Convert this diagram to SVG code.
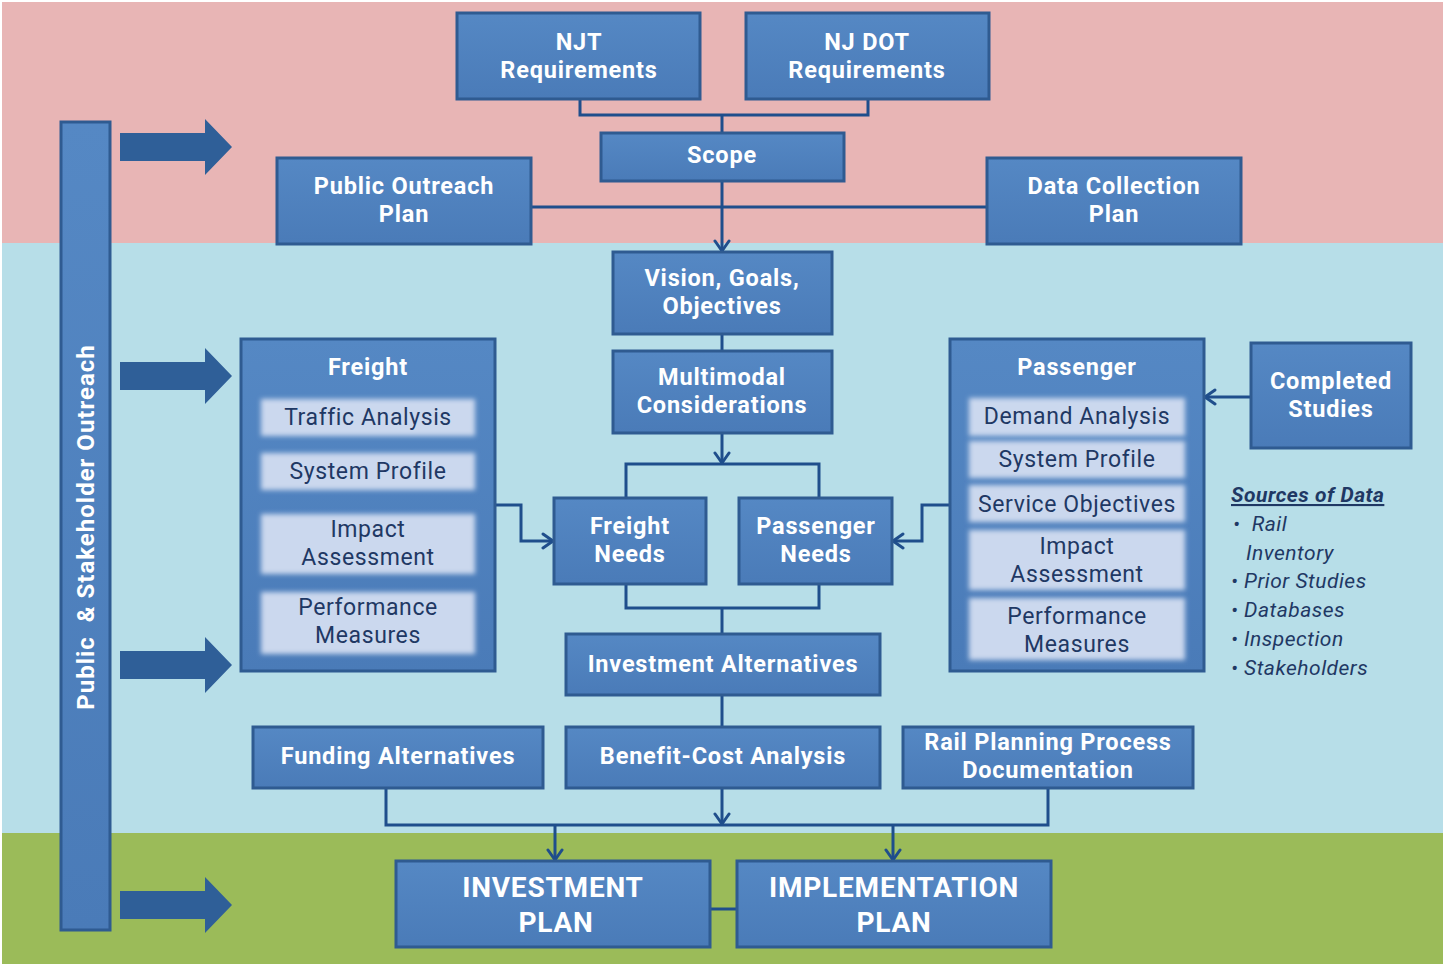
<svg xmlns="http://www.w3.org/2000/svg" width="1445" height="968" viewBox="0 0 1445 968">
<defs>
<linearGradient id="bx" x1="0" y1="0" x2="0" y2="1">
<stop offset="0" stop-color="#5588C4"/>
<stop offset="1" stop-color="#4A7BB8"/>
</linearGradient>
<filter id="soft" x="-10%" y="-20%" width="120%" height="140%">
<feGaussianBlur stdDeviation="2.5"/>
</filter>
<marker id="ah" viewBox="0 0 14 18" refX="12" refY="9" markerWidth="14" markerHeight="18" orient="auto" markerUnits="userSpaceOnUse">
<path d="M2,2 L12,9 L2,16" fill="none" stroke="#1F4E8C" stroke-width="3" stroke-linecap="round" stroke-linejoin="round"/>
</marker>
</defs>
<style>
.box{fill:url(#bx);stroke:#2F5B91;stroke-width:3}
.sub{fill:#CBD8EE;filter:url(#soft)}
.t{font-family:Roboto,"Liberation Sans",sans-serif;font-weight:bold;fill:#FFFFFF;text-anchor:middle;font-size:23.5px;letter-spacing:0.8px}
.big{font-size:28px}
.s{font-family:Roboto,"Liberation Sans",sans-serif;fill:#1F3864;text-anchor:middle;font-size:23px;letter-spacing:0.6px}
.src{font-family:Roboto,"Liberation Sans",sans-serif;fill:#1F3864;font-style:italic;font-size:21px;letter-spacing:0.5px}
.ln{fill:none;stroke:#1F4E8C;stroke-width:3}
.arr{fill:#2F5F98}
</style>
<rect x="0" y="0" width="1445" height="968" fill="#FFFFFF"/>
<rect x="2" y="2" width="1441" height="242" fill="#E8B5B5"/>
<rect x="2" y="243" width="1441" height="590" fill="#B7DEE8"/>
<rect x="2" y="833" width="1441" height="131" fill="#9BBB59"/>

<g id="outreach-bar">
<rect x="61" y="122" width="49" height="808" class="box" stroke-width="2"/>
<text class="t" xml:space="preserve" transform="translate(94,527) rotate(-90)" style="font-size:24px;letter-spacing:1px">Public  &amp; Stakeholder Outreach</text>
</g>
<g id="big-arrows">
<polygon class="arr" points="120,133 205,133 205,119 232,147 205,175 205,161 120,161"/>
<polygon class="arr" points="120,362 205,362 205,348 232,376 205,404 205,390 120,390"/>
<polygon class="arr" points="120,651 205,651 205,637 232,665 205,693 205,679 120,679"/>
<polygon class="arr" points="120,891 205,891 205,877 232,905 205,933 205,919 120,919"/>
</g>

<g id="connectors">
<path class="ln" d="M580,99 V115 H868 V99"/>
<path class="ln" d="M722,115 V133"/>
<path class="ln" d="M531,207 H987"/>
<path class="ln" d="M722,181 V251" marker-end="url(#ah)"/>
<path class="ln" d="M722,334 V351"/>
<path class="ln" d="M722,433 V463" marker-end="url(#ah)"/>
<path class="ln" d="M626,498 V464 H819 V498"/>
<path class="ln" d="M626,584 V608 H819 V584"/>
<path class="ln" d="M722,608 V634"/>
<path class="ln" d="M495,505 H521 V541 H553" marker-end="url(#ah)"/>
<path class="ln" d="M950,505 H922 V541 H893" marker-end="url(#ah)"/>
<path class="ln" d="M1251,397 H1205" marker-end="url(#ah)"/>
<path class="ln" d="M722,695 V727"/>
<path class="ln" d="M722,788 V824" marker-end="url(#ah)"/>
<path class="ln" d="M386,788 V825 H1048 V788"/>
<path class="ln" d="M555,825 V860" marker-end="url(#ah)"/>
<path class="ln" d="M893,825 V860" marker-end="url(#ah)"/>
<path class="ln" d="M710,909 H737"/>
</g>

<g id="njt">
<rect x="457" y="13" width="243" height="86" class="box"/>
<text class="t" x="579" y="50">NJT</text>
<text class="t" x="579" y="78">Requirements</text>
</g>
<g id="njdot">
<rect x="746" y="13" width="243" height="86" class="box"/>
<text class="t" x="867" y="50">NJ DOT</text>
<text class="t" x="867" y="78">Requirements</text>
</g>
<g id="scope">
<rect x="601" y="133" width="243" height="48" class="box"/>
<text class="t" x="722" y="163">Scope</text>
</g>
<g id="public-outreach-plan">
<rect x="277" y="158" width="254" height="86" class="box"/>
<text class="t" x="404" y="194">Public Outreach</text>
<text class="t" x="404" y="222">Plan</text>
</g>
<g id="data-collection-plan">
<rect x="987" y="158" width="254" height="86" class="box"/>
<text class="t" x="1114" y="194">Data Collection</text>
<text class="t" x="1114" y="222">Plan</text>
</g>
<g id="vision">
<rect x="613" y="252" width="219" height="82" class="box"/>
<text class="t" x="722" y="286">Vision, Goals,</text>
<text class="t" x="722" y="314">Objectives</text>
</g>
<g id="multimodal">
<rect x="613" y="351" width="219" height="82" class="box"/>
<text class="t" x="722" y="385">Multimodal</text>
<text class="t" x="722" y="413">Considerations</text>
</g>
<g id="freight">
<rect x="241" y="339" width="254" height="332" class="box"/>
<text class="t" x="368" y="375">Freight</text>
<rect class="sub" x="261" y="399" width="214" height="37"/>
<text class="s" x="368" y="425">Traffic Analysis</text>
<rect class="sub" x="261" y="453" width="214" height="37"/>
<text class="s" x="368" y="479">System Profile</text>
<rect class="sub" x="261" y="514" width="214" height="60"/>
<text class="s" x="368" y="537">Impact</text>
<text class="s" x="368" y="565">Assessment</text>
<rect class="sub" x="261" y="592" width="214" height="62"/>
<text class="s" x="368" y="615">Performance</text>
<text class="s" x="368" y="643">Measures</text>
</g>
<g id="passenger">
<rect x="950" y="339" width="254" height="332" class="box"/>
<text class="t" x="1077" y="375">Passenger</text>
<rect class="sub" x="969" y="398" width="216" height="38"/>
<text class="s" x="1077" y="424">Demand Analysis</text>
<rect class="sub" x="969" y="441" width="216" height="37"/>
<text class="s" x="1077" y="467">System Profile</text>
<rect class="sub" x="969" y="485" width="216" height="37"/>
<text class="s" x="1077" y="512">Service Objectives</text>
<rect class="sub" x="969" y="530" width="216" height="60"/>
<text class="s" x="1077" y="554">Impact</text>
<text class="s" x="1077" y="582">Assessment</text>
<rect class="sub" x="969" y="598" width="216" height="62"/>
<text class="s" x="1077" y="624">Performance</text>
<text class="s" x="1077" y="652">Measures</text>
</g>
<g id="completed-studies">
<rect x="1251" y="343" width="160" height="105" class="box"/>
<text class="t" x="1331" y="389">Completed</text>
<text class="t" x="1331" y="417">Studies</text>
</g>
<g id="sources">
<text class="src" x="1231" y="502" font-weight="bold" text-decoration="underline">Sources of Data</text>
<text class="src" x="1233" y="531" xml:space="preserve">•  Rail</text>
<text class="src" x="1246" y="560">Inventory</text>
<text class="src" x="1231" y="588">• Prior Studies</text>
<text class="src" x="1231" y="617">• Databases</text>
<text class="src" x="1231" y="646">• Inspection</text>
<text class="src" x="1231" y="675">• Stakeholders</text>
</g>
<g id="freight-needs">
<rect x="554" y="498" width="152" height="86" class="box"/>
<text class="t" x="630" y="534">Freight</text>
<text class="t" x="630" y="562">Needs</text>
</g>
<g id="passenger-needs">
<rect x="739" y="498" width="153" height="86" class="box"/>
<text class="t" x="816" y="534">Passenger</text>
<text class="t" x="816" y="562">Needs</text>
</g>
<g id="investment-alternatives">
<rect x="566" y="634" width="314" height="61" class="box"/>
<text class="t" x="723" y="672">Investment Alternatives</text>
</g>
<g id="funding-alternatives">
<rect x="253" y="727" width="290" height="61" class="box"/>
<text class="t" x="398" y="764">Funding Alternatives</text>
</g>
<g id="benefit-cost">
<rect x="566" y="727" width="314" height="61" class="box"/>
<text class="t" x="723" y="764">Benefit-Cost Analysis</text>
</g>
<g id="rail-planning">
<rect x="903" y="727" width="290" height="61" class="box"/>
<text class="t" x="1048" y="750">Rail Planning Process</text>
<text class="t" x="1048" y="778">Documentation</text>
</g>
<g id="investment-plan">
<rect x="396" y="861" width="314" height="86" class="box"/>
<text class="t big" x="553" y="897">INVESTMENT</text>
<text class="t big" x="556" y="932">PLAN</text>
</g>
<g id="implementation-plan">
<rect x="737" y="861" width="314" height="86" class="box"/>
<text class="t big" x="894" y="897">IMPLEMENTATION</text>
<text class="t big" x="894" y="932">PLAN</text>
</g>
</svg>
